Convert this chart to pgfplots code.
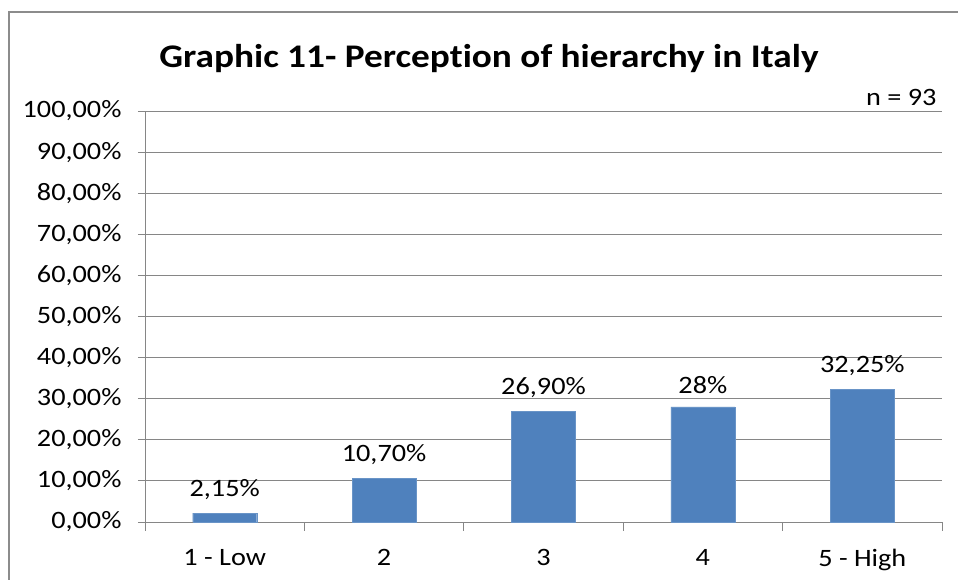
\documentclass[border=0pt]{standalone}
\usepackage{pgfplots}
\pgfplotsset{compat=1.18}
\usepackage{fontspec}
\setmainfont{Carlito}[FakeStretch=1.13, Ligatures={NoCommon}]
\definecolor{barblue}{HTML}{4F81BD}
\definecolor{gridgray}{HTML}{868686}
\definecolor{framegray}{HTML}{8C8C8C}
\begin{document}
\begin{tikzpicture}[x=1pt,y=1pt]
\useasboundingbox (0,0) rectangle (958,580);
\clip (0,0) rectangle (958,580);
\fill[white] (0,0) rectangle (958,580);
\draw[framegray, line width=1.6pt] (9,-20) -- (9,568) -- (990,568);
\node[font=\fontsize{33}{38}\selectfont\bfseries, anchor=center] at (489,521) {Graphic 11- Perception of hierarchy in Italy};
\node[font=\fontsize{25}{30}\selectfont, anchor=east] at (940,483) {n = 93};
\begin{axis}[
  at={(145pt,58pt)}, anchor=south west,
  scale only axis, width=797pt, height=411pt,
  xmin=-0.5, xmax=4.5, ymin=0, ymax=100,
  axis x line=bottom, axis y line=left,
  axis line style={gridgray, line width=0.9pt, -},
  xtick={0,1,2,3,4},
  xticklabels={1 - Low, 2, 3, 4, 5 - High},
  minor xtick={-0.5,0.5,1.5,2.5,3.5,4.5},
  major x tick style={draw=none},
  minor x tick style={gridgray, line width=0.9pt},
  minor tick length=9pt,
  ytick={0,10,...,100},
  yticklabels={{0,00\%},{10,00\%},{20,00\%},{30,00\%},{40,00\%},{50,00\%},{60,00\%},{70,00\%},{80,00\%},{90,00\%},{100,00\%}},
  y tick style={gridgray, line width=0.9pt},
  major tick length=7pt,
  tick align=outside,
  ymajorgrids, grid style={gridgray, line width=0.9pt},
  tick label style={font=\fontsize{25}{30}\selectfont, black},
  xticklabel style={yshift=-17pt},
  yticklabel style={xshift=-13pt},
  every node near coord/.append style={font=\fontsize{25}{30}\selectfont, black, yshift=10pt},
  nodes near coords, point meta=explicit symbolic,
  clip=false,
]
\addplot[ybar, bar width=64pt, fill=barblue, draw=barblue!85!white] table[meta=lab] {
x y lab
0 2.15 {2,15\%}
1 10.70 {10,70\%}
2 26.90 {26,90\%}
3 28 {28\%}
4 32.25 {32,25\%}
};
\end{axis}
\end{tikzpicture}
\end{document}
